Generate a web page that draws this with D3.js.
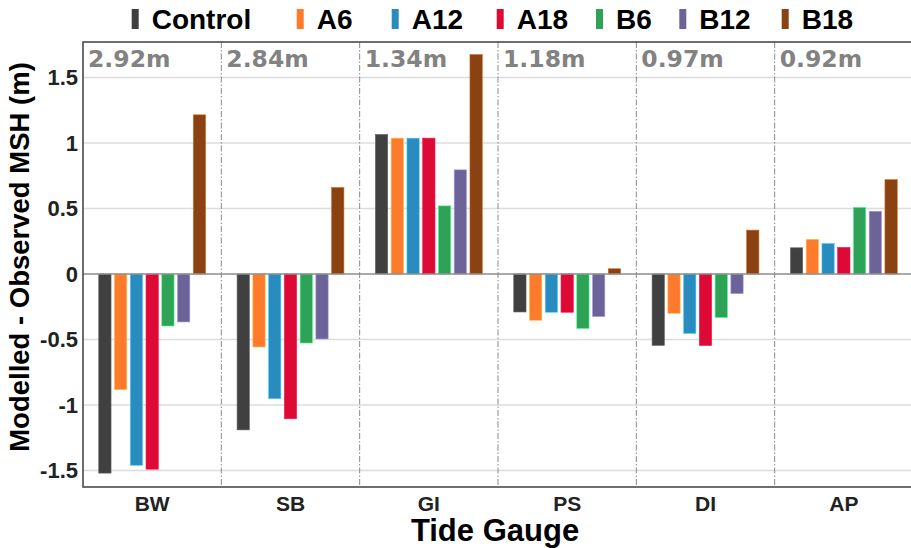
<!DOCTYPE html>
<html>
<head>
<meta charset="utf-8">
<script src="https://cdn.jsdelivr.net/npm/d3@7"></script>
<style>
  html, body { margin: 0; padding: 0; background: #fff; }
  svg { display: block; }
</style>
</head>
<body>
<svg id="chart" width="911" height="548"></svg>
<script>
// ---- data ----
const categories = ["BW", "SB", "GI", "PS", "DI", "AP"];
const seriesNames = ["Control", "A6", "A12", "A18", "B6", "B12", "B18"];
const seriesColors = ["#404040", "#fe7b2d", "#2a8bbf", "#de0a36", "#2ea358", "#6c6398", "#8a4212"];
const control = [-1.52, -1.19, 1.065, -0.29, -0.545, 0.20];
const a6      = [-0.883, -0.557, 1.037, -0.353, -0.30, 0.264];
const a12     = [-1.46, -0.952, 1.037, -0.292, -0.454, 0.233];
const a18     = [-1.49, -1.105, 1.037, -0.292, -0.546, 0.203];
const b6      = [-0.397, -0.527, 0.52, -0.416, -0.332, 0.508];
const b12     = [-0.366, -0.496, 0.795, -0.325, -0.150, 0.479];
const b18     = [1.215, 0.66, 1.675, 0.04, 0.335, 0.72];
const rangeLabels = ["2.92m", "2.84m", "1.34m", "1.18m", "0.97m", "0.92m"];
const yTicks = [-1.5, -1, -0.5, 0, 0.5, 1, 1.5];
const yTitle = "Modelled - Observed MSH (m)";
const xTitle = "Tide Gauge";

const seriesValues = [control, a6, a12, a18, b6, b12, b18];

// ---- layout ----
const svg = d3.select("#chart");
const plot = { left: 83, right: 913, top: 42, bottom: 487 };
const legendSwatchX = [131.7, 296.7, 391.7, 496.7, 596, 679.3, 781.7];

const x0 = d3.scaleBand().domain(categories).range([plot.left, plot.right]).padding(0);
const x1 = d3.scaleBand().domain(seriesNames).range([0, x0.bandwidth()])
  .paddingInner(0.22).paddingOuter(1.0);
const y = d3.scaleLinear().domain([-1.626, 1.771]).range([plot.bottom, plot.top]);
const color = d3.scaleOrdinal().domain(seriesNames).range(seriesColors);

// gridlines
svg.append("g").selectAll("line")
  .data(yTicks.filter(d => d !== 0))
  .join("line")
  .attr("x1", plot.left).attr("x2", plot.right)
  .attr("y1", d => y(d)).attr("y2", d => y(d))
  .attr("stroke", "#dcdcdc").attr("stroke-width", 1.5);

// vertical separators (dash-dot)
svg.append("g").selectAll("line")
  .data(categories.slice(1))
  .join("line")
  .attr("x1", d => x0(d)).attr("x2", d => x0(d))
  .attr("y1", plot.top).attr("y2", plot.bottom)
  .attr("stroke", "#8a8a8a").attr("stroke-width", 1)
  .attr("stroke-dasharray", "6,2,1.5,2");

// bars
const rows = [];
categories.forEach((c, ci) => {
  seriesNames.forEach((s, si) => rows.push({ cat: c, ser: s, v: seriesValues[si][ci] }));
});
svg.append("g").selectAll("rect")
  .data(rows)
  .join("rect")
  .attr("x", d => x0(d.cat) + x1(d.ser))
  .attr("width", x1.bandwidth())
  .attr("y", d => y(Math.max(0, d.v)))
  .attr("height", d => Math.abs(y(d.v) - y(0)))
  .attr("fill", d => color(d.ser))
  .attr("stroke", d => d3.color(color(d.ser)).brighter(1.2))
  .attr("stroke-width", 0.6);

// zero line
svg.append("line")
  .attr("x1", plot.left).attr("x2", plot.right)
  .attr("y1", y(0)).attr("y2", y(0))
  .attr("stroke", "#8c8c8c").attr("stroke-width", 1.6);

// frame
svg.append("rect")
  .attr("x", plot.left).attr("y", plot.top)
  .attr("width", plot.right - plot.left).attr("height", plot.bottom - plot.top)
  .attr("fill", "none").attr("stroke", "#4a4a4a").attr("stroke-width", 1.6);

// range labels
svg.append("g").selectAll("text")
  .data(categories)
  .join("text")
  .attr("x", d => x0(d) + 5)
  .attr("y", 67)
  .attr("fill", "#828282")
  .attr("font-family", "DejaVu Sans")
  .attr("font-weight", "bold")
  .attr("font-size", 23.5)
  .text((d, i) => rangeLabels[i]);

// y axis
const yAxis = d3.axisLeft(y).tickValues(yTicks).tickFormat(d => String(d)).tickSize(0).tickPadding(5);
const yg = svg.append("g").attr("transform", `translate(${plot.left},0)`).call(yAxis);
yg.select(".domain").remove();
yg.selectAll("text")
  .attr("font-family", "Liberation Sans")
  .attr("font-weight", "bold")
  .attr("font-size", 22)
  .attr("fill", "#222");

// x axis
const xAxis = d3.axisBottom(x0).tickSize(0).tickPadding(9);
const xg = svg.append("g").attr("transform", `translate(0,${plot.bottom})`).call(xAxis);
xg.select(".domain").remove();
xg.selectAll("text")
  .attr("font-family", "Liberation Sans")
  .attr("font-weight", "bold")
  .attr("font-size", 21)
  .attr("fill", "#222");

// axis titles
svg.append("text")
  .attr("transform", `translate(29,257) rotate(-90)`)
  .attr("text-anchor", "middle")
  .attr("font-family", "Liberation Sans")
  .attr("font-weight", "bold")
  .attr("font-size", 27.5)
  .attr("fill", "#000")
  .text(yTitle);

svg.append("text")
  .attr("x", (plot.left + plot.right) / 2 - 3)
  .attr("y", 541)
  .attr("text-anchor", "middle")
  .attr("font-family", "Liberation Sans")
  .attr("font-weight", "bold")
  .attr("font-size", 31)
  .attr("fill", "#000")
  .text(xTitle);

// legend
const legend = svg.append("g");
seriesNames.forEach((s, i) => {
  const lx = legendSwatchX[i];
  legend.append("rect")
    .attr("x", lx).attr("y", 9).attr("width", 7).attr("height", 20)
    .attr("fill", color(s));
  legend.append("text")
    .attr("x", lx + 20).attr("y", 29)
    .attr("font-family", "Liberation Sans")
    .attr("font-weight", "bold")
    .attr("font-size", 28)
    .attr("fill", "#000")
    .text(s);
});
</script>
</body>
</html>
